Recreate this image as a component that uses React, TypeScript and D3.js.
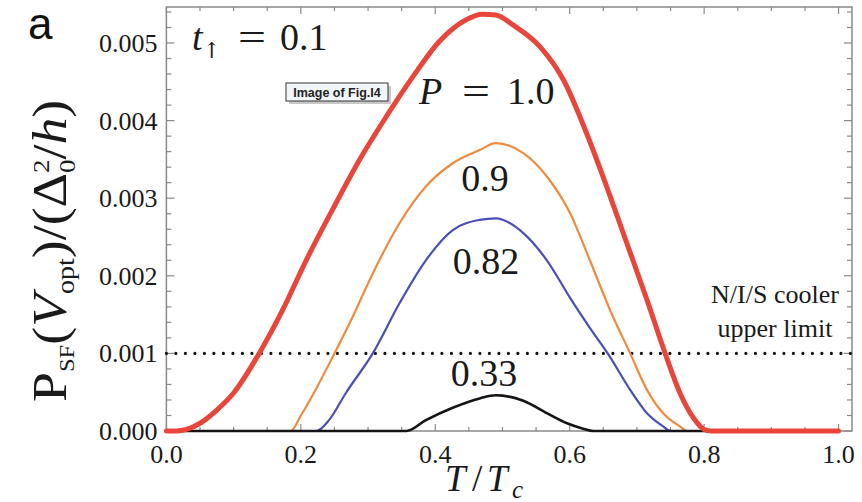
import React from "react";
import * as d3 from "d3";

// Spin-filtered power P_SF(V_opt) versus reduced temperature, for several polarizations P
const T_P100 = [0.0, 0.015, 0.03, 0.05, 0.075, 0.1, 0.138, 0.173, 0.208, 0.247, 0.287, 0.327, 0.367, 0.406, 0.446, 0.47, 0.49, 0.516, 0.556, 0.591, 0.625, 0.655, 0.685, 0.715, 0.742, 0.764, 0.784, 0.8, 0.81, 1.0];
const V_P100 = [0, 0, 0.00002, 0.0001, 0.00027, 0.00049, 0.001, 0.00156, 0.0022, 0.00285, 0.00349, 0.00405, 0.00457, 0.00502, 0.0053, 0.00537, 0.00536, 0.00523, 0.00495, 0.00452, 0.00384, 0.00315, 0.00242, 0.00169, 0.001, 0.00049, 0.00017, 0.00002, 0, 0];

const T_P090 = [0.0, 0.185, 0.2, 0.22, 0.25, 0.277, 0.307, 0.347, 0.386, 0.426, 0.466, 0.49, 0.531, 0.566, 0.601, 0.63, 0.66, 0.69, 0.715, 0.739, 0.764, 0.775, 1.0];
const V_P090 = [0, 0, 0.0002, 0.0005, 0.001, 0.00147, 0.00203, 0.00268, 0.00315, 0.00345, 0.00362, 0.00371, 0.00358, 0.00328, 0.0028, 0.0022, 0.00156, 0.001, 0.00053, 0.00023, 0.00006, 0, 0];

const T_P082 = [0.0, 0.223, 0.242, 0.267, 0.307, 0.347, 0.386, 0.426, 0.466, 0.49, 0.531, 0.566, 0.601, 0.63, 0.658, 0.69, 0.715, 0.739, 0.75, 1.0];
const V_P082 = [0, 0, 0.00014, 0.00049, 0.001, 0.00165, 0.0022, 0.00259, 0.00272, 0.00274, 0.00255, 0.0022, 0.00171, 0.00133, 0.00098, 0.00053, 0.00023, 0.00006, 0, 0];

const T_P033 = [0.0, 0.357, 0.386, 0.426, 0.466, 0.49, 0.531, 0.566, 0.596, 0.62, 0.635, 1.0];
const V_P033 = [0, 0, 0.00014, 0.0003, 0.00042, 0.00046, 0.00039, 0.00023, 0.0001, 0.00003, 0, 0];

const COOLER_LIMIT = 0.001;

const X_TICKS = [0.0, 0.2, 0.4, 0.6, 0.8, 1.0];
const Y_TICKS = [0.0, 0.001, 0.002, 0.003, 0.004, 0.005];

const W = 862;
const H = 502;

const x = d3.scaleLinear().domain([0, 1.02]).range([166.4, 852]);
const y = d3.scaleLinear().domain([0, 0.005464]).range([431, 7]);

const line = d3
  .line<[number, number]>()
  .x((d) => x(d[0]))
  .y((d) => y(d[1]))
  .curve(d3.curveMonotoneX);

const zip = (a: number[], b: number[]) => a.map((v, i) => [v, b[i]] as [number, number]);

const series = [
  { t: T_P090, v: V_P090, color: "#f08a3e", width: 2.2 },
  { t: T_P082, v: V_P082, color: "#4a4fb3", width: 2.2 },
  { t: T_P033, v: V_P033, color: "#141414", width: 2.6 },
  { t: T_P100, v: V_P100, color: "#e8453b", width: 5 },
];

const serif = "Liberation Serif, DejaVu Serif, serif";
const sans = "Liberation Sans, Arial, sans-serif";
const frameColor = "#8a8a8a";
const ink = "#1a1a1a";

// A stretched equals sign, as typeset in the math labels
function Eq({ x0, base, size }: { x0: number; base: number; size: number }) {
  return (
    <text
      x={x0}
      y={base}
      fontSize={size}
      textLength={28}
      lengthAdjust="spacingAndGlyphs"
      style={{ fontFamily: serif }}
      fill={ink}
    >
      =
    </text>
  );
}

export default function App() {
  const xMinor = d3.range(0, 1.0001, 0.05);
  const yMinor = d3.range(0, 0.00541, 0.0002);
  const x0 = x.range()[0];
  const x1 = x.range()[1];
  const yTop = y.range()[1];
  const yBot = y.range()[0];

  return (
    <svg
      width={W}
      height={H}
      style={{ position: "absolute", left: 0, top: 0, background: "#fff" }}
    >
      <rect x={0} y={0} width={W} height={H} fill="#fff" />

      {/* frame */}
      <rect
        x={x0}
        y={yTop}
        width={x1 - x0}
        height={yBot - yTop}
        fill="none"
        stroke={frameColor}
        strokeWidth={1.5}
      />

      {/* x ticks, bottom and top, pointing inward */}
      {xMinor.map((v, i) => {
        const major = i % 4 === 0;
        const len = major ? 7 : 4;
        return (
          <g key={"xt" + i} stroke={frameColor} strokeWidth={1.2}>
            <line x1={x(v)} x2={x(v)} y1={yBot} y2={yBot - len} />
            <line x1={x(v)} x2={x(v)} y1={yTop} y2={yTop + len} />
          </g>
        );
      })}

      {/* y ticks, left and right, pointing inward */}
      {yMinor.map((v, i) => {
        const major = i % 5 === 0;
        const len = major ? 8 : 5;
        return (
          <g key={"yt" + i} stroke={frameColor} strokeWidth={1.2}>
            <line x1={x0} x2={x0 + len} y1={y(v)} y2={y(v)} />
            <line x1={x1} x2={x1 - len} y1={y(v)} y2={y(v)} />
          </g>
        );
      })}

      {/* tick labels */}
      {X_TICKS.map((v) => (
        <text
          key={"xl" + v}
          x={x(v)}
          y={yBot + 32}
          textAnchor="middle"
          style={{ fontFamily: serif }}
          fontSize={26}
          fill={ink}
        >
          {d3.format(".1f")(v)}
        </text>
      ))}
      {Y_TICKS.map((v) => (
        <text
          key={"yl" + v}
          x={x0 - 9}
          y={y(v) + 9}
          textAnchor="end"
          style={{ fontFamily: serif }}
          fontSize={26}
          fill={ink}
        >
          {d3.format(".3f")(v)}
        </text>
      ))}

      {/* cooler upper limit */}
      <line
        x1={x(0)}
        x2={x1}
        y1={y(COOLER_LIMIT)}
        y2={y(COOLER_LIMIT)}
        stroke="#111"
        strokeWidth={3.2}
        strokeDasharray="0 9.5"
        strokeLinecap="round"
      />

      {/* curves */}
      {series.map((s, i) => (
        <path
          key={"s" + i}
          d={line(zip(s.t, s.v)) || ""}
          fill="none"
          stroke={s.color}
          strokeWidth={s.width}
          strokeLinejoin="round"
          strokeLinecap="round"
        />
      ))}

      {/* annotations */}
      <g style={{ fontFamily: serif }} fill={ink}>
        <text x={192} y={50} fontSize={38}>
          <tspan fontStyle="italic">t</tspan>
          <tspan fontSize={22} dy={8} style={{ fontFamily: "DejaVu Serif" }}>
            {"\u2191"}
          </tspan>
        </text>
        <text x={280} y={50} fontSize={38}>
          0.1
        </text>
        <text x={419} y={104} fontSize={38} fontStyle="italic">
          P
        </text>
        <text x={507} y={104} fontSize={38}>
          1.0
        </text>
        <text x={485} y={191} textAnchor="middle" fontSize={38}>
          0.9
        </text>
        <text x={486} y={274} textAnchor="middle" fontSize={38}>
          0.82
        </text>
        <text x={484} y={386} textAnchor="middle" fontSize={38}>
          0.33
        </text>
        <text x={775} y={303} textAnchor="middle" fontSize={26}>
          N/I/S cooler
        </text>
        <text x={775} y={337} textAnchor="middle" fontSize={26}>
          upper limit
        </text>
      </g>
      <Eq x0={238} base={50} size={38} />
      <Eq x0={462} base={104} size={38} />

      {/* figure tag */}
      <g>
        <rect x={289} y={86} width={102} height={18} fill="#c8c8c8" />
        <rect x={286} y={83} width={102} height={18} fill="#f3f6f9" stroke="#333" strokeWidth={1} />
        <text
          x={337}
          y={97}
          textAnchor="middle"
          style={{ fontFamily: sans }}
          fontWeight="bold"
          fontSize={12.5}
          fill="#222"
        >
          Image of Fig.I4
        </text>
      </g>

      {/* panel letter */}
      <text x={28} y={39} style={{ fontFamily: sans }} fontSize={44} fill="#111">
        a
      </text>

      {/* axis titles */}
      <text y={491} style={{ fontFamily: serif }} fontSize={37} fill={ink}>
        <tspan x={445} fontStyle="italic">T</tspan>
        <tspan x={472}>/</tspan>
        <tspan x={487} fontStyle="italic">T</tspan>
        <tspan x={512} fontStyle="italic" fontSize={25} dy={7}>
          c
        </tspan>
      </text>
      <text
        transform="translate(66,402) rotate(-90) scale(1.12,1)"
        style={{ fontFamily: serif }}
        fontSize={48}
        fill={ink}
      >
        <tspan>P</tspan>
        <tspan fontSize={22} dy={8}>SF</tspan>
        <tspan dy={-8}>(</tspan>
        <tspan fontStyle="italic">V</tspan>
        <tspan fontSize={25} dy={8}>opt</tspan>
        <tspan dy={-8}>)/(Δ</tspan>
        <tspan fontSize={24} dy={9}>0</tspan>
        <tspan fontSize={24} dx={-12} dy={-26}>2</tspan>
        <tspan dy={17}>/</tspan>
        <tspan fontStyle="italic">h</tspan>
        <tspan>)</tspan>
      </text>
    </svg>
  );
}
